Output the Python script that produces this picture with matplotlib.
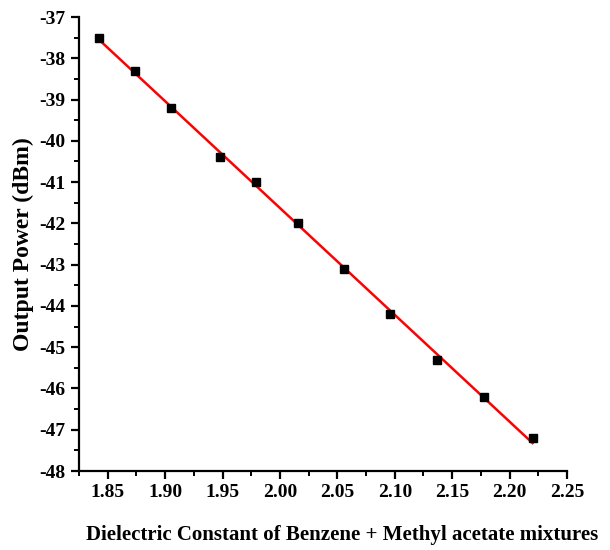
import numpy as np
import matplotlib.pyplot as plt
from matplotlib.ticker import MultipleLocator, FormatStrFormatter

plt.rcParams['font.family'] = ['Liberation Serif', 'DejaVu Serif']
plt.rcParams['font.weight'] = 'bold'
plt.rcParams['axes.unicode_minus'] = False

eps = [1.842, 1.874, 1.905, 1.948, 1.979, 2.016, 2.056, 2.096, 2.137, 2.178, 2.220]
power = [-37.5, -38.3, -39.2, -40.4, -41.0, -42.0, -43.1, -44.2, -45.3, -46.2, -47.2]

fig = plt.figure(figsize=(6.1, 5.5), dpi=100)
ax = fig.add_axes([0.1295, 0.1436, 0.8, 0.8254])

# linear fit through the measured points
k, b = np.polyfit(eps, power, 1)
xf = np.array([eps[0], eps[-1]])
ax.plot(xf, k * xf + b, color='red', lw=1.8, zorder=2)
ax.plot(eps, power, 's', color='black', ms=6, zorder=3)

ax.set_xlim(1.825, 2.25)
ax.set_ylim(-48, -37)
ax.xaxis.set_major_locator(MultipleLocator(0.05))
ax.xaxis.set_minor_locator(MultipleLocator(0.025))
ax.xaxis.set_major_formatter(FormatStrFormatter('%.2f'))
ax.yaxis.set_major_locator(MultipleLocator(1))
ax.yaxis.set_minor_locator(MultipleLocator(0.5))

for s in ['top', 'right']:
    ax.spines[s].set_visible(False)
for s in ['left', 'bottom']:
    ax.spines[s].set_linewidth(1.6)
ax.tick_params(which='major', direction='out', length=6, width=1.6, labelsize=14)
ax.tick_params(which='minor', direction='out', length=3.5, width=1.4)

ax.set_xlabel('Dielectric Constant of Benzene + Methyl acetate mixtures',
              fontsize=15, fontweight='bold')
ax.xaxis.set_label_coords(0.54, -0.12)
ax.set_ylabel('Output Power (dBm)', fontsize=17, fontweight='bold', labelpad=4)

fig.savefig('out.png', dpi=100)
